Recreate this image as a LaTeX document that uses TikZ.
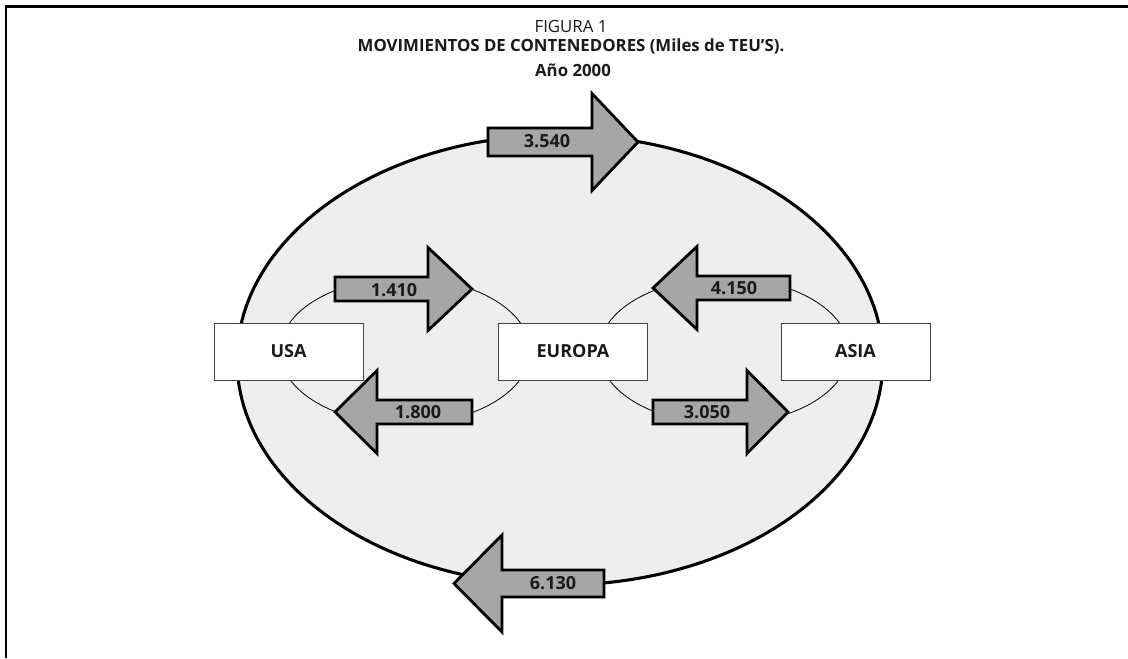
\documentclass[tikz,border=0pt]{standalone}
\usepackage{fontspec}
\setmainfont{Open Sans}
\definecolor{ellfill}{HTML}{EEEEEE}
\definecolor{arrowfill}{HTML}{A6A6A6}
\definecolor{boxline}{HTML}{444444}
\definecolor{txt}{HTML}{1A1A1A}
\newcommand\flowarrow[6]{%
  \draw[flow] ({#1},{#4-#5}) -- ({#2},{#4-#5}) -- ({#2},{#4-#6}) -- ({#3},{#4})
    -- ({#2},{#4+#6}) -- ({#2},{#4+#5}) -- ({#1},{#4+#5}) -- cycle;}
\begin{document}
\begin{tikzpicture}[x=0.75pt,y=-0.75pt,
  bigell/.style={line width=2.3pt, fill=ellfill, draw=black},
  smallell/.style={line width=0.6pt, draw=black},
  region/.style={draw=boxline, line width=0.7pt, fill=white, minimum width=111.75pt,
    minimum height=42.75pt, inner sep=0pt, font=\bfseries\fontsize{13.5}{15}\selectfont, text=txt},
  flow/.style={draw=black, line width=2.1pt, fill=arrowfill, line join=miter},
  flowlabel/.style={font=\bfseries\fontsize{13.5}{15}\selectfont, text=txt, inner sep=0pt},
  titletext/.style={font=\bfseries\fontsize{12.6}{14}\selectfont, text=txt, inner sep=0pt}
]
\useasboundingbox (0,0) rectangle (1128,658);
% frame
\draw[line width=1.6pt] (6,658) -- (6,6.5) -- (1128,6.5);
% title
\node[font=\fontsize{12.6}{14}\selectfont, text=txt, inner sep=0pt] (fig) at (571,26) {FIGURA 1};
\node[titletext] (title) at (571,46) {MOVIMIENTOS DE CONTENEDORES (Miles de TEU’S).};
\node[titletext] (year) at (573,70) {Año 2000};
% big ellipse
\draw[bigell] (560,360) ellipse [x radius=323, y radius=225];
% small ellipses
\draw[smallell] (405,351) ellipse [x radius=125, y radius=73];
\draw[smallell] (724,351) ellipse [x radius=125, y radius=73];
% regions
\node[region] (usa) at (288.5,351.5) {USA};
\node[region] (europa) at (573,351.5) {EUROPA};
\node[region] (asia) at (855.5,351.5) {ASIA};
% arrows
\flowarrow{488}{592}{638}{142}{14}{48.5}
\flowarrow{604}{502}{454}{583.5}{13.5}{48.5}
\flowarrow{335}{428}{472}{289}{12}{41.5}
\flowarrow{472}{377}{335}{412}{12}{41.5}
\flowarrow{790}{697}{653}{288}{12}{41.5}
\flowarrow{653}{747}{788}{412}{12}{41.5}
% labels
\node[flowlabel] (l3540) at (547,141) {3.540};
\node[flowlabel] (l6130) at (553,583) {6.130};
\node[flowlabel] (l1410) at (394,290) {1.410};
\node[flowlabel] (l1800) at (418,412) {1.800};
\node[flowlabel] (l4150) at (734,288) {4.150};
\node[flowlabel] (l3050) at (707,412) {3.050};
\end{tikzpicture}
\end{document}
